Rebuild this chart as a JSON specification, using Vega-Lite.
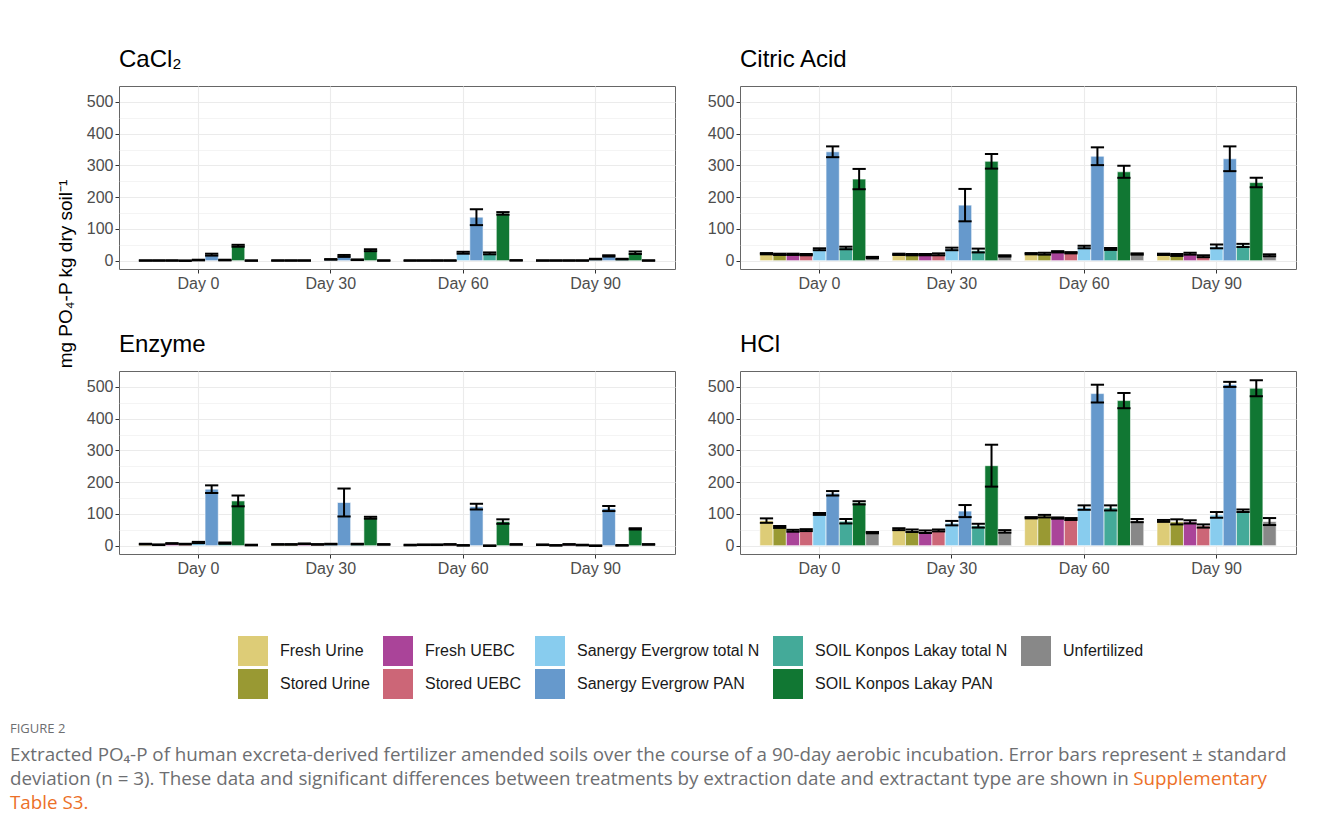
{
  "$schema": "https://vega.github.io/schema/vega-lite/v6.json",
  "background": "white",
  "padding": {"left": 10, "right": 10, "top": 47, "bottom": 5},
  "datasets": {
    "bars": [
      {"p": "CaCl₂", "d": "Day 0", "t": "Fresh Urine", "m": 0.5, "s": 0.8},
      {"p": "CaCl₂", "d": "Day 0", "t": "Stored Urine", "m": 0.5, "s": 0.8},
      {"p": "CaCl₂", "d": "Day 0", "t": "Fresh UEBC", "m": 0.5, "s": 0.8},
      {"p": "CaCl₂", "d": "Day 0", "t": "Stored UEBC", "m": 0, "s": 0.8},
      {"p": "CaCl₂", "d": "Day 0", "t": "Sanergy Evergrow total N", "m": 2, "s": 1},
      {"p": "CaCl₂", "d": "Day 0", "t": "Sanergy Evergrow PAN", "m": 19, "s": 3},
      {"p": "CaCl₂", "d": "Day 0", "t": "SOIL Konpos Lakay total N", "m": 2, "s": 1},
      {"p": "CaCl₂", "d": "Day 0", "t": "SOIL Konpos Lakay PAN", "m": 47, "s": 3},
      {"p": "CaCl₂", "d": "Day 0", "t": "Unfertilized", "m": 0.3, "s": 0.8},
      {"p": "CaCl₂", "d": "Day 30", "t": "Fresh Urine", "m": 0.5, "s": 0.8},
      {"p": "CaCl₂", "d": "Day 30", "t": "Stored Urine", "m": 0.5, "s": 0.8},
      {"p": "CaCl₂", "d": "Day 30", "t": "Fresh UEBC", "m": 0.5, "s": 0.8},
      {"p": "CaCl₂", "d": "Day 30", "t": "Sanergy Evergrow total N", "m": 4, "s": 1},
      {"p": "CaCl₂", "d": "Day 30", "t": "Sanergy Evergrow PAN", "m": 15, "s": 3},
      {"p": "CaCl₂", "d": "Day 30", "t": "SOIL Konpos Lakay total N", "m": 3, "s": 1},
      {"p": "CaCl₂", "d": "Day 30", "t": "SOIL Konpos Lakay PAN", "m": 33, "s": 3},
      {"p": "CaCl₂", "d": "Day 30", "t": "Unfertilized", "m": 0.5, "s": 0.8},
      {"p": "CaCl₂", "d": "Day 60", "t": "Fresh Urine", "m": 0.5, "s": 0.8},
      {"p": "CaCl₂", "d": "Day 60", "t": "Stored Urine", "m": 0.5, "s": 0.8},
      {"p": "CaCl₂", "d": "Day 60", "t": "Fresh UEBC", "m": 0.5, "s": 0.8},
      {"p": "CaCl₂", "d": "Day 60", "t": "Stored UEBC", "m": 0.5, "s": 0.8},
      {"p": "CaCl₂", "d": "Day 60", "t": "Sanergy Evergrow total N", "m": 25, "s": 3},
      {"p": "CaCl₂", "d": "Day 60", "t": "Sanergy Evergrow PAN", "m": 137, "s": 25},
      {"p": "CaCl₂", "d": "Day 60", "t": "SOIL Konpos Lakay total N", "m": 23, "s": 3},
      {"p": "CaCl₂", "d": "Day 60", "t": "SOIL Konpos Lakay PAN", "m": 149, "s": 4},
      {"p": "CaCl₂", "d": "Day 60", "t": "Unfertilized", "m": 1, "s": 0.8},
      {"p": "CaCl₂", "d": "Day 90", "t": "Fresh Urine", "m": 0.5, "s": 0.8},
      {"p": "CaCl₂", "d": "Day 90", "t": "Stored Urine", "m": 0.5, "s": 0.8},
      {"p": "CaCl₂", "d": "Day 90", "t": "Fresh UEBC", "m": 0.5, "s": 0.8},
      {"p": "CaCl₂", "d": "Day 90", "t": "Stored UEBC", "m": 0.5, "s": 0.8},
      {"p": "CaCl₂", "d": "Day 90", "t": "Sanergy Evergrow total N", "m": 5, "s": 1},
      {"p": "CaCl₂", "d": "Day 90", "t": "Sanergy Evergrow PAN", "m": 15, "s": 2},
      {"p": "CaCl₂", "d": "Day 90", "t": "SOIL Konpos Lakay total N", "m": 5, "s": 1},
      {"p": "CaCl₂", "d": "Day 90", "t": "SOIL Konpos Lakay PAN", "m": 25, "s": 4},
      {"p": "CaCl₂", "d": "Day 90", "t": "Unfertilized", "m": 0.5, "s": 0.8},

      {"p": "Citric Acid", "d": "Day 0", "t": "Fresh Urine", "m": 22, "s": 2},
      {"p": "Citric Acid", "d": "Day 0", "t": "Stored Urine", "m": 20, "s": 2},
      {"p": "Citric Acid", "d": "Day 0", "t": "Fresh UEBC", "m": 20, "s": 2},
      {"p": "Citric Acid", "d": "Day 0", "t": "Stored UEBC", "m": 19, "s": 2},
      {"p": "Citric Acid", "d": "Day 0", "t": "Sanergy Evergrow total N", "m": 36, "s": 3},
      {"p": "Citric Acid", "d": "Day 0", "t": "Sanergy Evergrow PAN", "m": 343, "s": 17},
      {"p": "Citric Acid", "d": "Day 0", "t": "SOIL Konpos Lakay total N", "m": 40, "s": 4},
      {"p": "Citric Acid", "d": "Day 0", "t": "SOIL Konpos Lakay PAN", "m": 257, "s": 32},
      {"p": "Citric Acid", "d": "Day 0", "t": "Unfertilized", "m": 10, "s": 2},
      {"p": "Citric Acid", "d": "Day 30", "t": "Fresh Urine", "m": 20, "s": 2},
      {"p": "Citric Acid", "d": "Day 30", "t": "Stored Urine", "m": 19, "s": 2},
      {"p": "Citric Acid", "d": "Day 30", "t": "Fresh UEBC", "m": 19, "s": 2},
      {"p": "Citric Acid", "d": "Day 30", "t": "Stored UEBC", "m": 20, "s": 3},
      {"p": "Citric Acid", "d": "Day 30", "t": "Sanergy Evergrow total N", "m": 37, "s": 4},
      {"p": "Citric Acid", "d": "Day 30", "t": "Sanergy Evergrow PAN", "m": 175, "s": 51},
      {"p": "Citric Acid", "d": "Day 30", "t": "SOIL Konpos Lakay total N", "m": 32, "s": 6},
      {"p": "Citric Acid", "d": "Day 30", "t": "SOIL Konpos Lakay PAN", "m": 313, "s": 23},
      {"p": "Citric Acid", "d": "Day 30", "t": "Unfertilized", "m": 15, "s": 2},
      {"p": "Citric Acid", "d": "Day 60", "t": "Fresh Urine", "m": 22, "s": 2},
      {"p": "Citric Acid", "d": "Day 60", "t": "Stored Urine", "m": 22, "s": 3},
      {"p": "Citric Acid", "d": "Day 60", "t": "Fresh UEBC", "m": 28, "s": 2},
      {"p": "Citric Acid", "d": "Day 60", "t": "Stored UEBC", "m": 25, "s": 2},
      {"p": "Citric Acid", "d": "Day 60", "t": "Sanergy Evergrow total N", "m": 43, "s": 4},
      {"p": "Citric Acid", "d": "Day 60", "t": "Sanergy Evergrow PAN", "m": 329, "s": 28},
      {"p": "Citric Acid", "d": "Day 60", "t": "SOIL Konpos Lakay total N", "m": 37, "s": 3},
      {"p": "Citric Acid", "d": "Day 60", "t": "SOIL Konpos Lakay PAN", "m": 280, "s": 19},
      {"p": "Citric Acid", "d": "Day 60", "t": "Unfertilized", "m": 21, "s": 2},
      {"p": "Citric Acid", "d": "Day 90", "t": "Fresh Urine", "m": 20, "s": 2},
      {"p": "Citric Acid", "d": "Day 90", "t": "Stored Urine", "m": 18, "s": 3},
      {"p": "Citric Acid", "d": "Day 90", "t": "Fresh UEBC", "m": 22, "s": 3},
      {"p": "Citric Acid", "d": "Day 90", "t": "Stored UEBC", "m": 14, "s": 3},
      {"p": "Citric Acid", "d": "Day 90", "t": "Sanergy Evergrow total N", "m": 45, "s": 6},
      {"p": "Citric Acid", "d": "Day 90", "t": "Sanergy Evergrow PAN", "m": 321, "s": 39},
      {"p": "Citric Acid", "d": "Day 90", "t": "SOIL Konpos Lakay total N", "m": 48, "s": 5},
      {"p": "Citric Acid", "d": "Day 90", "t": "SOIL Konpos Lakay PAN", "m": 246, "s": 15},
      {"p": "Citric Acid", "d": "Day 90", "t": "Unfertilized", "m": 17, "s": 3},

      {"p": "Enzyme", "d": "Day 0", "t": "Fresh Urine", "m": 5, "s": 1},
      {"p": "Enzyme", "d": "Day 0", "t": "Stored Urine", "m": 3, "s": 1},
      {"p": "Enzyme", "d": "Day 0", "t": "Fresh UEBC", "m": 7, "s": 1},
      {"p": "Enzyme", "d": "Day 0", "t": "Stored UEBC", "m": 5, "s": 1},
      {"p": "Enzyme", "d": "Day 0", "t": "Sanergy Evergrow total N", "m": 10, "s": 2},
      {"p": "Enzyme", "d": "Day 0", "t": "Sanergy Evergrow PAN", "m": 178, "s": 12},
      {"p": "Enzyme", "d": "Day 0", "t": "SOIL Konpos Lakay total N", "m": 8, "s": 2},
      {"p": "Enzyme", "d": "Day 0", "t": "SOIL Konpos Lakay PAN", "m": 141, "s": 17},
      {"p": "Enzyme", "d": "Day 0", "t": "Unfertilized", "m": 2, "s": 1},
      {"p": "Enzyme", "d": "Day 30", "t": "Fresh Urine", "m": 4, "s": 1},
      {"p": "Enzyme", "d": "Day 30", "t": "Stored Urine", "m": 4, "s": 1},
      {"p": "Enzyme", "d": "Day 30", "t": "Fresh UEBC", "m": 6, "s": 1},
      {"p": "Enzyme", "d": "Day 30", "t": "Stored UEBC", "m": 4, "s": 1},
      {"p": "Enzyme", "d": "Day 30", "t": "Sanergy Evergrow total N", "m": 5, "s": 1},
      {"p": "Enzyme", "d": "Day 30", "t": "Sanergy Evergrow PAN", "m": 136, "s": 44},
      {"p": "Enzyme", "d": "Day 30", "t": "SOIL Konpos Lakay total N", "m": 5, "s": 1},
      {"p": "Enzyme", "d": "Day 30", "t": "SOIL Konpos Lakay PAN", "m": 88, "s": 3},
      {"p": "Enzyme", "d": "Day 30", "t": "Unfertilized", "m": 4, "s": 1},
      {"p": "Enzyme", "d": "Day 60", "t": "Fresh Urine", "m": 2, "s": 1},
      {"p": "Enzyme", "d": "Day 60", "t": "Stored Urine", "m": 3, "s": 1},
      {"p": "Enzyme", "d": "Day 60", "t": "Fresh UEBC", "m": 3, "s": 1},
      {"p": "Enzyme", "d": "Day 60", "t": "Stored UEBC", "m": 4, "s": 1},
      {"p": "Enzyme", "d": "Day 60", "t": "Sanergy Evergrow total N", "m": 1, "s": 1},
      {"p": "Enzyme", "d": "Day 60", "t": "Sanergy Evergrow PAN", "m": 123, "s": 9},
      {"p": "Enzyme", "d": "Day 60", "t": "SOIL Konpos Lakay total N", "m": 0, "s": 1},
      {"p": "Enzyme", "d": "Day 60", "t": "SOIL Konpos Lakay PAN", "m": 76, "s": 7},
      {"p": "Enzyme", "d": "Day 60", "t": "Unfertilized", "m": 4, "s": 1},
      {"p": "Enzyme", "d": "Day 90", "t": "Fresh Urine", "m": 3, "s": 1},
      {"p": "Enzyme", "d": "Day 90", "t": "Stored Urine", "m": 1, "s": 1},
      {"p": "Enzyme", "d": "Day 90", "t": "Fresh UEBC", "m": 4, "s": 1},
      {"p": "Enzyme", "d": "Day 90", "t": "Stored UEBC", "m": 2, "s": 1},
      {"p": "Enzyme", "d": "Day 90", "t": "Sanergy Evergrow total N", "m": 0, "s": 1},
      {"p": "Enzyme", "d": "Day 90", "t": "Sanergy Evergrow PAN", "m": 117, "s": 8},
      {"p": "Enzyme", "d": "Day 90", "t": "SOIL Konpos Lakay total N", "m": 1, "s": 1},
      {"p": "Enzyme", "d": "Day 90", "t": "SOIL Konpos Lakay PAN", "m": 53, "s": 2},
      {"p": "Enzyme", "d": "Day 90", "t": "Unfertilized", "m": 4, "s": 1},

      {"p": "HCl", "d": "Day 0", "t": "Fresh Urine", "m": 79, "s": 7},
      {"p": "HCl", "d": "Day 0", "t": "Stored Urine", "m": 59, "s": 3},
      {"p": "HCl", "d": "Day 0", "t": "Fresh UEBC", "m": 47, "s": 3},
      {"p": "HCl", "d": "Day 0", "t": "Stored UEBC", "m": 49, "s": 3},
      {"p": "HCl", "d": "Day 0", "t": "Sanergy Evergrow total N", "m": 100, "s": 3},
      {"p": "HCl", "d": "Day 0", "t": "Sanergy Evergrow PAN", "m": 165, "s": 7},
      {"p": "HCl", "d": "Day 0", "t": "SOIL Konpos Lakay total N", "m": 77, "s": 7},
      {"p": "HCl", "d": "Day 0", "t": "SOIL Konpos Lakay PAN", "m": 135, "s": 5},
      {"p": "HCl", "d": "Day 0", "t": "Unfertilized", "m": 41, "s": 2},
      {"p": "HCl", "d": "Day 30", "t": "Fresh Urine", "m": 52, "s": 3},
      {"p": "HCl", "d": "Day 30", "t": "Stored Urine", "m": 47, "s": 4},
      {"p": "HCl", "d": "Day 30", "t": "Fresh UEBC", "m": 44, "s": 4},
      {"p": "HCl", "d": "Day 30", "t": "Stored UEBC", "m": 48, "s": 3},
      {"p": "HCl", "d": "Day 30", "t": "Sanergy Evergrow total N", "m": 71, "s": 7},
      {"p": "HCl", "d": "Day 30", "t": "Sanergy Evergrow PAN", "m": 109, "s": 19},
      {"p": "HCl", "d": "Day 30", "t": "SOIL Konpos Lakay total N", "m": 63, "s": 6},
      {"p": "HCl", "d": "Day 30", "t": "SOIL Konpos Lakay PAN", "m": 252, "s": 66},
      {"p": "HCl", "d": "Day 30", "t": "Unfertilized", "m": 45, "s": 4},
      {"p": "HCl", "d": "Day 60", "t": "Fresh Urine", "m": 88, "s": 2},
      {"p": "HCl", "d": "Day 60", "t": "Stored Urine", "m": 93, "s": 4},
      {"p": "HCl", "d": "Day 60", "t": "Fresh UEBC", "m": 87, "s": 2},
      {"p": "HCl", "d": "Day 60", "t": "Stored UEBC", "m": 84, "s": 3},
      {"p": "HCl", "d": "Day 60", "t": "Sanergy Evergrow total N", "m": 120, "s": 7},
      {"p": "HCl", "d": "Day 60", "t": "Sanergy Evergrow PAN", "m": 479, "s": 28},
      {"p": "HCl", "d": "Day 60", "t": "SOIL Konpos Lakay total N", "m": 119, "s": 8},
      {"p": "HCl", "d": "Day 60", "t": "SOIL Konpos Lakay PAN", "m": 457, "s": 24},
      {"p": "HCl", "d": "Day 60", "t": "Unfertilized", "m": 79, "s": 5},
      {"p": "HCl", "d": "Day 90", "t": "Fresh Urine", "m": 78, "s": 3},
      {"p": "HCl", "d": "Day 90", "t": "Stored Urine", "m": 75, "s": 8},
      {"p": "HCl", "d": "Day 90", "t": "Fresh UEBC", "m": 75, "s": 5},
      {"p": "HCl", "d": "Day 90", "t": "Stored UEBC", "m": 62, "s": 5},
      {"p": "HCl", "d": "Day 90", "t": "Sanergy Evergrow total N", "m": 97, "s": 9},
      {"p": "HCl", "d": "Day 90", "t": "Sanergy Evergrow PAN", "m": 508, "s": 8},
      {"p": "HCl", "d": "Day 90", "t": "SOIL Konpos Lakay total N", "m": 110, "s": 4},
      {"p": "HCl", "d": "Day 90", "t": "SOIL Konpos Lakay PAN", "m": 496, "s": 25},
      {"p": "HCl", "d": "Day 90", "t": "Unfertilized", "m": 76, "s": 11}
    ],
    "caption": [
      {"line": 1, "anchor": "start", "part": "text", "text": "Extracted PO₄-P of human excreta-derived fertilizer amended soils over the course of a 90-day aerobic incubation. Error bars represent ± standard"},
      {"line": 2, "anchor": "start", "part": "text", "text": "deviation (n = 3). These data and significant differences between treatments by extraction date and extractant type are shown in"},
      {"line": 2, "anchor": "end", "part": "link", "text": "Supplementary"},
      {"line": 3, "anchor": "start", "part": "link", "text": "Table S3."}
    ]
  },
  "vconcat": [
    {
      "title": {"text": "mg PO₄-P kg dry soil⁻¹", "orient": "left", "anchor": "middle", "fontSize": 19, "fontWeight": "normal", "color": "black", "offset": 10, "dx": -188},
      "data": {"name": "bars"},
      "transform": [
        {"calculate": "datum.m - datum.s", "as": "lo"},
        {"calculate": "datum.m + datum.s", "as": "hi"}
      ],
      "columns": 2,
      "spacing": {"row": 40, "column": 30},
      "concat": [
        {
          "title": {"text": "CaCl₂"},
          "width": 556, "height": 183,
          "transform": [{"filter": "datum.p === 'CaCl₂'"}],
          "encoding": {
            "x": {"field": "d", "type": "nominal", "sort": ["Day 0", "Day 30", "Day 60", "Day 90"], "title": null, "scale": {"paddingInner": 0.1, "paddingOuter": 0.15}, "axis": {"bandPosition": 0.5, "labelAngle": 0}},
            "xOffset": {"field": "t", "type": "nominal", "sort": ["Fresh Urine", "Stored Urine", "Fresh UEBC", "Stored UEBC", "Sanergy Evergrow total N", "Sanergy Evergrow PAN", "SOIL Konpos Lakay total N", "SOIL Konpos Lakay PAN", "Unfertilized"], "scale": {"domain": ["Fresh Urine", "Stored Urine", "Fresh UEBC", "Stored UEBC", "Sanergy Evergrow total N", "Sanergy Evergrow PAN", "SOIL Konpos Lakay total N", "SOIL Konpos Lakay PAN", "Unfertilized"]}}
          },
          "layer": [
            {"mark": {"type": "bar", "stroke": "white", "strokeWidth": 0.6},
             "encoding": {
               "y": {"field": "m", "type": "quantitative", "stack": null, "title": null, "scale": {"domain": [-26.2, 550.2], "nice": false, "zero": false}, "axis": {"values": [0, 50, 100, 150, 200, 250, 300, 350, 400, 450, 500], "labelOverlap": false, "labelExpr": "datum.value % 100 === 0 ? datum.label : ''", "tickOpacity": {"condition": {"test": "datum.value % 100 === 0", "value": 1}, "value": 0}, "gridWidth": {"condition": {"test": "datum.value % 100 === 0", "value": 1.1}, "value": 0.55}}},
               "y2": {"datum": 0},
               "color": {"field": "t", "type": "nominal", "title": null, "scale": {"domain": ["Fresh Urine", "Fresh UEBC", "Sanergy Evergrow total N", "SOIL Konpos Lakay total N", "Unfertilized", "Stored Urine", "Stored UEBC", "Sanergy Evergrow PAN", "SOIL Konpos Lakay PAN"], "range": ["#DDCC77", "#AA4499", "#88CCEE", "#44AA99", "#888888", "#999933", "#CC6677", "#6699CC", "#117733"]}}
             }},
            {"mark": {"type": "rule", "strokeWidth": 2, "color": "black"}, "encoding": {"y": {"field": "lo", "type": "quantitative", "title": null, "axis": {"values": [0, 50, 100, 150, 200, 250, 300, 350, 400, 450, 500], "labelOverlap": false, "labelExpr": "datum.value % 100 === 0 ? datum.label : ''", "tickOpacity": {"condition": {"test": "datum.value % 100 === 0", "value": 1}, "value": 0}, "gridWidth": {"condition": {"test": "datum.value % 100 === 0", "value": 1.1}, "value": 0.55}}}, "y2": {"field": "hi"}}},
            {"mark": {"type": "tick", "thickness": 2, "color": "black", "opacity": 1}, "encoding": {"y": {"field": "lo", "type": "quantitative", "title": null, "axis": {"values": [0, 50, 100, 150, 200, 250, 300, 350, 400, 450, 500], "labelOverlap": false, "labelExpr": "datum.value % 100 === 0 ? datum.label : ''", "tickOpacity": {"condition": {"test": "datum.value % 100 === 0", "value": 1}, "value": 0}, "gridWidth": {"condition": {"test": "datum.value % 100 === 0", "value": 1.1}, "value": 0.55}}}}},
            {"mark": {"type": "tick", "thickness": 2, "color": "black", "opacity": 1}, "encoding": {"y": {"field": "hi", "type": "quantitative", "title": null, "axis": {"values": [0, 50, 100, 150, 200, 250, 300, 350, 400, 450, 500], "labelOverlap": false, "labelExpr": "datum.value % 100 === 0 ? datum.label : ''", "tickOpacity": {"condition": {"test": "datum.value % 100 === 0", "value": 1}, "value": 0}, "gridWidth": {"condition": {"test": "datum.value % 100 === 0", "value": 1.1}, "value": 0.55}}}}}
          ]
        },
        {
          "title": {"text": "Citric Acid"},
          "width": 556, "height": 183,
          "transform": [{"filter": "datum.p === 'Citric Acid'"}],
          "encoding": {
            "x": {"field": "d", "type": "nominal", "sort": ["Day 0", "Day 30", "Day 60", "Day 90"], "title": null, "scale": {"paddingInner": 0.1, "paddingOuter": 0.15}, "axis": {"bandPosition": 0.5, "labelAngle": 0}},
            "xOffset": {"field": "t", "type": "nominal", "sort": ["Fresh Urine", "Stored Urine", "Fresh UEBC", "Stored UEBC", "Sanergy Evergrow total N", "Sanergy Evergrow PAN", "SOIL Konpos Lakay total N", "SOIL Konpos Lakay PAN", "Unfertilized"], "scale": {"domain": ["Fresh Urine", "Stored Urine", "Fresh UEBC", "Stored UEBC", "Sanergy Evergrow total N", "Sanergy Evergrow PAN", "SOIL Konpos Lakay total N", "SOIL Konpos Lakay PAN", "Unfertilized"]}}
          },
          "layer": [
            {"mark": {"type": "bar", "stroke": "white", "strokeWidth": 0.6},
             "encoding": {
               "y": {"field": "m", "type": "quantitative", "stack": null, "title": null, "scale": {"domain": [-26.2, 550.2], "nice": false, "zero": false}, "axis": {"values": [0, 50, 100, 150, 200, 250, 300, 350, 400, 450, 500], "labelOverlap": false, "labelExpr": "datum.value % 100 === 0 ? datum.label : ''", "tickOpacity": {"condition": {"test": "datum.value % 100 === 0", "value": 1}, "value": 0}, "gridWidth": {"condition": {"test": "datum.value % 100 === 0", "value": 1.1}, "value": 0.55}}},
               "y2": {"datum": 0},
               "color": {"field": "t", "type": "nominal", "title": null}
             }},
            {"mark": {"type": "rule", "strokeWidth": 2, "color": "black"}, "encoding": {"y": {"field": "lo", "type": "quantitative", "title": null, "axis": {"values": [0, 50, 100, 150, 200, 250, 300, 350, 400, 450, 500], "labelOverlap": false, "labelExpr": "datum.value % 100 === 0 ? datum.label : ''", "tickOpacity": {"condition": {"test": "datum.value % 100 === 0", "value": 1}, "value": 0}, "gridWidth": {"condition": {"test": "datum.value % 100 === 0", "value": 1.1}, "value": 0.55}}}, "y2": {"field": "hi"}}},
            {"mark": {"type": "tick", "thickness": 2, "color": "black", "opacity": 1}, "encoding": {"y": {"field": "lo", "type": "quantitative", "title": null, "axis": {"values": [0, 50, 100, 150, 200, 250, 300, 350, 400, 450, 500], "labelOverlap": false, "labelExpr": "datum.value % 100 === 0 ? datum.label : ''", "tickOpacity": {"condition": {"test": "datum.value % 100 === 0", "value": 1}, "value": 0}, "gridWidth": {"condition": {"test": "datum.value % 100 === 0", "value": 1.1}, "value": 0.55}}}}},
            {"mark": {"type": "tick", "thickness": 2, "color": "black", "opacity": 1}, "encoding": {"y": {"field": "hi", "type": "quantitative", "title": null, "axis": {"values": [0, 50, 100, 150, 200, 250, 300, 350, 400, 450, 500], "labelOverlap": false, "labelExpr": "datum.value % 100 === 0 ? datum.label : ''", "tickOpacity": {"condition": {"test": "datum.value % 100 === 0", "value": 1}, "value": 0}, "gridWidth": {"condition": {"test": "datum.value % 100 === 0", "value": 1.1}, "value": 0.55}}}}}
          ]
        },
        {
          "title": {"text": "Enzyme"},
          "width": 556, "height": 183,
          "transform": [{"filter": "datum.p === 'Enzyme'"}],
          "encoding": {
            "x": {"field": "d", "type": "nominal", "sort": ["Day 0", "Day 30", "Day 60", "Day 90"], "title": null, "scale": {"paddingInner": 0.1, "paddingOuter": 0.15}, "axis": {"bandPosition": 0.5, "labelAngle": 0}},
            "xOffset": {"field": "t", "type": "nominal", "sort": ["Fresh Urine", "Stored Urine", "Fresh UEBC", "Stored UEBC", "Sanergy Evergrow total N", "Sanergy Evergrow PAN", "SOIL Konpos Lakay total N", "SOIL Konpos Lakay PAN", "Unfertilized"], "scale": {"domain": ["Fresh Urine", "Stored Urine", "Fresh UEBC", "Stored UEBC", "Sanergy Evergrow total N", "Sanergy Evergrow PAN", "SOIL Konpos Lakay total N", "SOIL Konpos Lakay PAN", "Unfertilized"]}}
          },
          "layer": [
            {"mark": {"type": "bar", "stroke": "white", "strokeWidth": 0.6},
             "encoding": {
               "y": {"field": "m", "type": "quantitative", "stack": null, "title": null, "scale": {"domain": [-26.2, 550.2], "nice": false, "zero": false}, "axis": {"values": [0, 50, 100, 150, 200, 250, 300, 350, 400, 450, 500], "labelOverlap": false, "labelExpr": "datum.value % 100 === 0 ? datum.label : ''", "tickOpacity": {"condition": {"test": "datum.value % 100 === 0", "value": 1}, "value": 0}, "gridWidth": {"condition": {"test": "datum.value % 100 === 0", "value": 1.1}, "value": 0.55}}},
               "y2": {"datum": 0},
               "color": {"field": "t", "type": "nominal", "title": null}
             }},
            {"mark": {"type": "rule", "strokeWidth": 2, "color": "black"}, "encoding": {"y": {"field": "lo", "type": "quantitative", "title": null, "axis": {"values": [0, 50, 100, 150, 200, 250, 300, 350, 400, 450, 500], "labelOverlap": false, "labelExpr": "datum.value % 100 === 0 ? datum.label : ''", "tickOpacity": {"condition": {"test": "datum.value % 100 === 0", "value": 1}, "value": 0}, "gridWidth": {"condition": {"test": "datum.value % 100 === 0", "value": 1.1}, "value": 0.55}}}, "y2": {"field": "hi"}}},
            {"mark": {"type": "tick", "thickness": 2, "color": "black", "opacity": 1}, "encoding": {"y": {"field": "lo", "type": "quantitative", "title": null, "axis": {"values": [0, 50, 100, 150, 200, 250, 300, 350, 400, 450, 500], "labelOverlap": false, "labelExpr": "datum.value % 100 === 0 ? datum.label : ''", "tickOpacity": {"condition": {"test": "datum.value % 100 === 0", "value": 1}, "value": 0}, "gridWidth": {"condition": {"test": "datum.value % 100 === 0", "value": 1.1}, "value": 0.55}}}}},
            {"mark": {"type": "tick", "thickness": 2, "color": "black", "opacity": 1}, "encoding": {"y": {"field": "hi", "type": "quantitative", "title": null, "axis": {"values": [0, 50, 100, 150, 200, 250, 300, 350, 400, 450, 500], "labelOverlap": false, "labelExpr": "datum.value % 100 === 0 ? datum.label : ''", "tickOpacity": {"condition": {"test": "datum.value % 100 === 0", "value": 1}, "value": 0}, "gridWidth": {"condition": {"test": "datum.value % 100 === 0", "value": 1.1}, "value": 0.55}}}}}
          ]
        },
        {
          "title": {"text": "HCl"},
          "width": 556, "height": 183,
          "transform": [{"filter": "datum.p === 'HCl'"}],
          "encoding": {
            "x": {"field": "d", "type": "nominal", "sort": ["Day 0", "Day 30", "Day 60", "Day 90"], "title": null, "scale": {"paddingInner": 0.1, "paddingOuter": 0.15}, "axis": {"bandPosition": 0.5, "labelAngle": 0}},
            "xOffset": {"field": "t", "type": "nominal", "sort": ["Fresh Urine", "Stored Urine", "Fresh UEBC", "Stored UEBC", "Sanergy Evergrow total N", "Sanergy Evergrow PAN", "SOIL Konpos Lakay total N", "SOIL Konpos Lakay PAN", "Unfertilized"], "scale": {"domain": ["Fresh Urine", "Stored Urine", "Fresh UEBC", "Stored UEBC", "Sanergy Evergrow total N", "Sanergy Evergrow PAN", "SOIL Konpos Lakay total N", "SOIL Konpos Lakay PAN", "Unfertilized"]}}
          },
          "layer": [
            {"mark": {"type": "bar", "stroke": "white", "strokeWidth": 0.6},
             "encoding": {
               "y": {"field": "m", "type": "quantitative", "stack": null, "title": null, "scale": {"domain": [-26.2, 550.2], "nice": false, "zero": false}, "axis": {"values": [0, 50, 100, 150, 200, 250, 300, 350, 400, 450, 500], "labelOverlap": false, "labelExpr": "datum.value % 100 === 0 ? datum.label : ''", "tickOpacity": {"condition": {"test": "datum.value % 100 === 0", "value": 1}, "value": 0}, "gridWidth": {"condition": {"test": "datum.value % 100 === 0", "value": 1.1}, "value": 0.55}}},
               "y2": {"datum": 0},
               "color": {"field": "t", "type": "nominal", "title": null}
             }},
            {"mark": {"type": "rule", "strokeWidth": 2, "color": "black"}, "encoding": {"y": {"field": "lo", "type": "quantitative", "title": null, "axis": {"values": [0, 50, 100, 150, 200, 250, 300, 350, 400, 450, 500], "labelOverlap": false, "labelExpr": "datum.value % 100 === 0 ? datum.label : ''", "tickOpacity": {"condition": {"test": "datum.value % 100 === 0", "value": 1}, "value": 0}, "gridWidth": {"condition": {"test": "datum.value % 100 === 0", "value": 1.1}, "value": 0.55}}}, "y2": {"field": "hi"}}},
            {"mark": {"type": "tick", "thickness": 2, "color": "black", "opacity": 1}, "encoding": {"y": {"field": "lo", "type": "quantitative", "title": null, "axis": {"values": [0, 50, 100, 150, 200, 250, 300, 350, 400, 450, 500], "labelOverlap": false, "labelExpr": "datum.value % 100 === 0 ? datum.label : ''", "tickOpacity": {"condition": {"test": "datum.value % 100 === 0", "value": 1}, "value": 0}, "gridWidth": {"condition": {"test": "datum.value % 100 === 0", "value": 1.1}, "value": 0.55}}}}},
            {"mark": {"type": "tick", "thickness": 2, "color": "black", "opacity": 1}, "encoding": {"y": {"field": "hi", "type": "quantitative", "title": null, "axis": {"values": [0, 50, 100, 150, 200, 250, 300, 350, 400, 450, 500], "labelOverlap": false, "labelExpr": "datum.value % 100 === 0 ? datum.label : ''", "tickOpacity": {"condition": {"test": "datum.value % 100 === 0", "value": 1}, "value": 0}, "gridWidth": {"condition": {"test": "datum.value % 100 === 0", "value": 1.1}, "value": 0.55}}}}}
          ]
        }
      ]
    },
    {
      "width": 1257, "height": 48,
      "data": {"name": "caption"},
      "view": {"stroke": null},
      "title": {"text": "FIGURE 2", "anchor": "start", "frame": "group", "fontSize": 13, "fontWeight": "normal", "color": "#6d6e71", "offset": 10, "dx": -109, "font": "Open Sans"},
      "encoding": {
        "x": {"field": "anchor", "type": "nominal", "scale": {"type": "point", "domain": ["start", "end"], "padding": 0, "align": 0}, "axis": null},
        "y": {"field": "line", "type": "ordinal", "scale": {"type": "point", "padding": 0}, "axis": null},
        "text": {"field": "text"},
        "color": {"field": "part", "type": "nominal", "scale": {"domain": ["text", "link"], "range": ["#6d6e71", "#ec7028"]}, "legend": null}
      },
      "layer": [
        {"transform": [{"filter": "datum.anchor === 'start'"}], "mark": {"type": "text", "align": "left", "baseline": "middle", "fontSize": 18.8, "font": "Open Sans", "dx": -109}},
        {"transform": [{"filter": "datum.anchor === 'end'"}], "mark": {"type": "text", "align": "right", "baseline": "middle", "fontSize": 18.8, "font": "Open Sans", "dx": -109}}
      ]
    }
  ],
  "spacing": 24,
  "resolve": {"scale": {"color": "independent", "x": "independent", "y": "independent"}},
  "config": {
    "font": "Liberation Sans",
    "view": {"stroke": "#666666", "strokeWidth": 1},
    "title": {"anchor": "start", "frame": "group", "fontSize": 24, "fontWeight": "normal", "color": "black", "offset": 14},
    "axis": {"domain": false, "grid": true, "gridColor": "#ebebeb", "gridWidth": 1.1, "labelColor": "#4d4d4d", "labelFontSize": 16, "tickColor": "#333333", "tickSize": 4, "tickWidth": 1, "labelPadding": 2},
    "legend": {"orient": "bottom", "direction": "horizontal", "columns": 5, "symbolType": "square", "symbolSize": 900, "symbolStrokeWidth": 0, "symbolOpacity": 1, "labelFontSize": 16, "labelColor": "#1a1a1a", "labelLimit": 400, "rowPadding": 3, "columnPadding": 13, "labelOffset": 12, "offset": 59, "layout": {"bottom": {"anchor": "middle"}}}
  }
}
